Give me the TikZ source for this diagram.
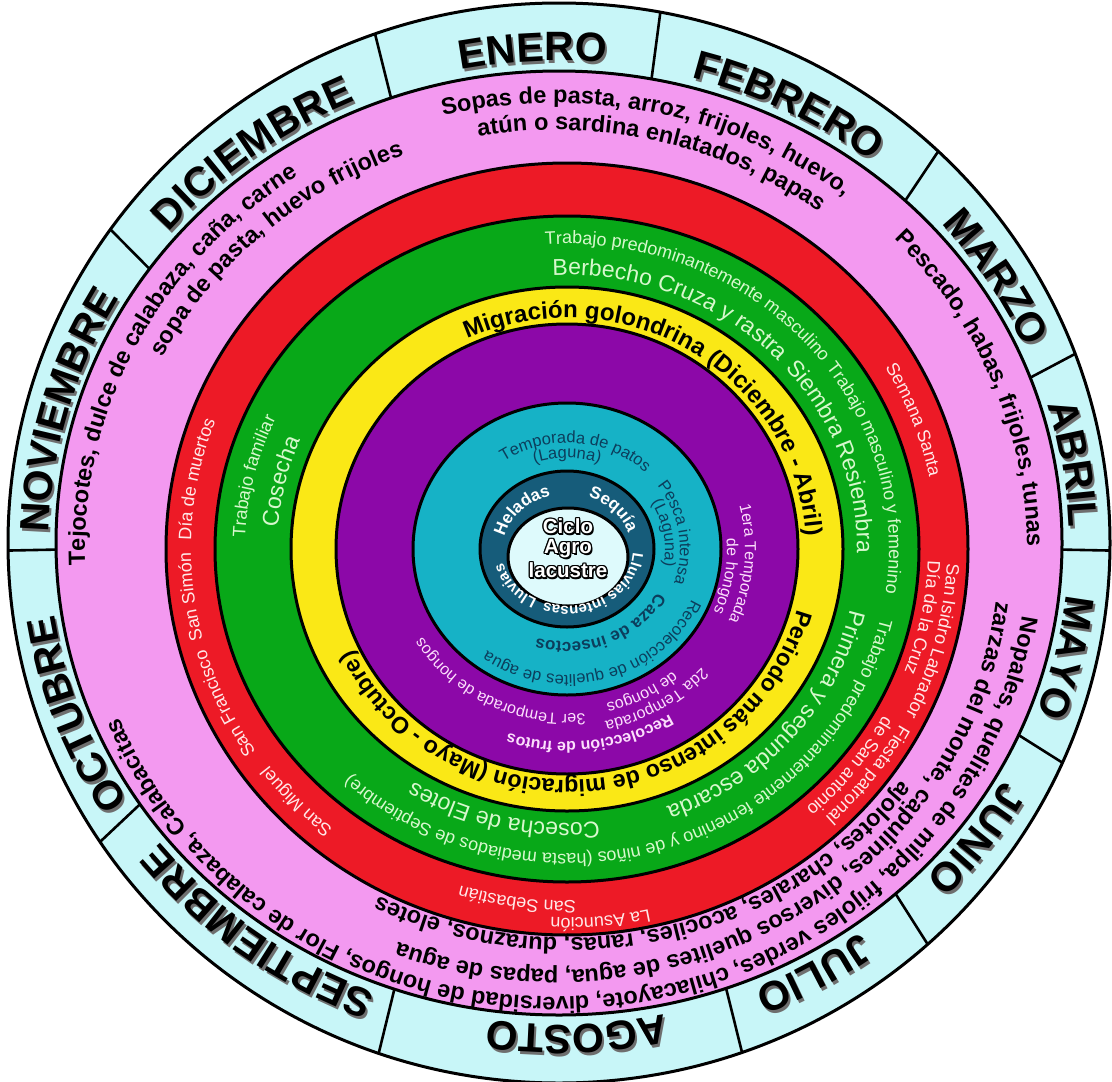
\documentclass[tikz,border=0pt]{standalone}
\usepackage{fontspec}
\setmainfont{Liberation Sans}
\usetikzlibrary{decorations.text,calc}
\definecolor{monthc}{RGB}{200,246,248}
\definecolor{pinkc}{RGB}{243,153,240}
\definecolor{redc}{RGB}{237,26,38}
\definecolor{greenc}{RGB}{8,168,24}
\definecolor{yellowc}{RGB}{250,232,22}
\definecolor{purplec}{RGB}{140,8,168}
\definecolor{cyanc}{RGB}{22,178,198}
\definecolor{darkc}{RGB}{22,92,122}
\definecolor{centerc}{RGB}{222,250,252}
\definecolor{redtxt}{RGB}{255,232,232}
\definecolor{greentxt}{RGB}{215,248,205}
\definecolor{purpletxt}{RGB}{252,222,252}
\definecolor{cyantxt}{RGB}{12,62,92}
\definecolor{shadowc}{RGB}{110,110,110}
\newcommand\fmonth{\fontsize{41}{48}\selectfont\bfseries}
\newcommand\fmonthS{\fontsize{41}{48}\selectfont\bfseries\color{shadowc}}
\newcommand\fpink{\fontsize{23.5}{28}\selectfont\bfseries}
\newcommand\fredt{\fontsize{18}{21}\selectfont\color{redtxt}}
\newcommand\fgs{\fontsize{18}{21}\selectfont\color{greentxt}}
\newcommand\fgl{\fontsize{23}{27}\selectfont\color{greentxt}}
\newcommand\fyel{\fontsize{24}{28}\selectfont\bfseries}
\newcommand\fyelb{\fontsize{23.3}{28}\selectfont\bfseries}
\newcommand\fpur{\fontsize{16}{19}\selectfont\color{purpletxt}}
\newcommand\fpurb{\fontsize{16}{19}\selectfont\bfseries\color{purpletxt}}
\newcommand\fcy{\fontsize{16.5}{19}\selectfont\color{cyantxt}}
\newcommand\fcyb{\fontsize{17}{20}\selectfont\bfseries\color{cyantxt}}
\newcommand\fdk{\fontsize{17}{20}\selectfont\bfseries\color{white}}
\newcommand\fdks{\fontsize{15}{18}\selectfont\bfseries\color{white}}
% #1 centre, #2 rx, #3 ry, #4 mid angle, #5 half span, #6 format, #7 text
\newcommand\atext[7]{%
  \path[shift={(#1)},decorate,decoration={text along path,text align=center,text={|#6|#7}}]
    ({#4+#5}:#2pt and #3pt) arc[start angle={#4+#5},end angle={#4-#5},x radius=#2pt,y radius=#3pt];}
\newcommand\outl[1]{\leavevmode\rlap{\color{black}\rlap{\kern-1.3pt #1}\rlap{\kern1.3pt #1}\rlap{\raisebox{1.3pt}{#1}}\rlap{\raisebox{-1.3pt}{#1}}\rlap{\kern-1pt\raisebox{-1pt}{#1}}\rlap{\kern1pt\raisebox{-1pt}{#1}}\rlap{\kern1pt\raisebox{1pt}{#1}}\rlap{\kern-1pt\raisebox{1pt}{#1}}\rlap{\kern1.5pt\raisebox{-2pt}{#1}}}\textcolor{white}{#1}}
\tikzset{ringline/.style={draw=black,line width=3pt},
  ctext/.style={font=\fontsize{20.5}{23}\selectfont\bfseries,inner sep=0pt}}
\begin{document}
\begin{tikzpicture}[x=1pt,y=1pt]
\useasboundingbox (0,0) rectangle (1112,-1082);
\fill[white] (0,0) rectangle (1112,-1082);
\coordinate (M) at (559,-543);
\coordinate (Ms) at (561,-546);
\coordinate (P) at (556,-550);
\coordinate (C) at (567,-549);
\coordinate (W) at (568,-557);
% rings
\filldraw[ringline,fill=monthc] (M) ellipse[x radius=551pt,y radius=540pt];
\foreach \a in {109.5,79.4,46.5,20.5,-0.8,-24,-48,-70.6,-109.1,-146.4,180.8,144.5}
  \draw[line width=2.6pt,shift={(M)}] (\a:503pt and 472pt) -- (\a:551pt and 540pt);
\filldraw[ringline,fill=pinkc] (M) ellipse[x radius=503pt,y radius=472pt];
\filldraw[ringline,fill=redc] (C) ellipse[x radius=401pt,y radius=386pt];
\filldraw[ringline,fill=greenc] (C) ellipse[x radius=352pt,y radius=333pt];
\filldraw[ringline,fill=yellowc] (C) ellipse[x radius=276pt,y radius=262pt];
\filldraw[ringline,fill=purplec] (C) ellipse[x radius=231pt,y radius=225pt];
\filldraw[ringline,fill=cyanc] (C) ellipse[x radius=154pt,y radius=146pt];
\filldraw[ringline,fill=darkc] (C) ellipse[x radius=87pt,y radius=78pt];
\filldraw[ringline,fill=centerc] (W) ellipse[x radius=60pt,y radius=49pt];
% months (shadow then text)
\atext{Ms}{510}{482}{93}{45}{\fmonthS}{ENERO}
\atext{M}{510}{482}{93}{45}{\fmonth}{ENERO}
\atext{Ms}{510}{482}{63}{45}{\fmonthS}{FEBRERO}
\atext{M}{510}{482}{63}{45}{\fmonth}{FEBRERO}
\atext{Ms}{510}{482}{32}{45}{\fmonthS}{MARZO}
\atext{M}{510}{482}{32}{45}{\fmonth}{MARZO}
\atext{Ms}{510}{482}{9}{45}{\fmonthS}{ABRIL}
\atext{M}{510}{482}{9}{45}{\fmonth}{ABRIL}
\atext{Ms}{510}{482}{-13}{45}{\fmonthS}{MAYO}
\atext{M}{510}{482}{-13}{45}{\fmonth}{MAYO}
\atext{Ms}{510}{482}{-36}{45}{\fmonthS}{JUNIO}
\atext{M}{510}{482}{-36}{45}{\fmonth}{JUNIO}
\atext{Ms}{510}{482}{-60}{45}{\fmonthS}{JULIO}
\atext{M}{510}{482}{-60}{45}{\fmonth}{JULIO}
\atext{Ms}{510}{482}{-88}{45}{\fmonthS}{AGOSTO}
\atext{M}{510}{482}{-88}{45}{\fmonth}{AGOSTO}
\atext{Ms}{510}{482}{-127}{45}{\fmonthS}{SEPTIEMBRE}
\atext{M}{510}{482}{-127}{45}{\fmonth}{SEPTIEMBRE}
\atext{Ms}{510}{482}{-160}{45}{\fmonthS}{OCTUBRE}
\atext{M}{510}{482}{-160}{45}{\fmonth}{OCTUBRE}
\atext{Ms}{510}{482}{164.5}{45}{\fmonthS}{NOVIEMBRE}
\atext{M}{510}{482}{164.5}{45}{\fmonth}{NOVIEMBRE}
\atext{Ms}{510}{482}{127.4}{45}{\fmonthS}{DICIEMBRE}
\atext{M}{510}{482}{127.4}{45}{\fmonth}{DICIEMBRE}
% pink ring
\atext{P}{471}{447}{77.9}{45}{\fpink}{Sopas de pasta, arroz, frijoles, huevo,}
\atext{P}{443}{420}{76.6}{45}{\fpink}{atún o sardina enlatados, papas}
\atext{P}{471}{447}{22}{40}{\fpink}{Pescado, habas, frijoles, tunas}
\atext{P}{471}{447}{-83.2}{86}{\fpink}{Nopales, quelites de milpa, frijoles verdes, chilacayote, diversidad de hongos, Flor de calabaza, Calabacitas}
\atext{P}{443}{420}{-58.7}{62}{\fpink}{zarzas del monte, capulines, diversos quelites de agua, papas de agua}
\atext{C}{416}{389}{-76.5}{55}{\fpink}{ajolotes, charales, acociles, ranas, duraznos, elotes}
\atext{P}{471}{447}{152.8}{40}{\fpink}{Tejocotes, dulce de calabaza, caña, carne}
\atext{P}{443}{420}{131.8}{40}{\fpink}{sopa de pasta, huevo frijoles}
% red ring
\atext{C}{370}{355}{21}{30}{\fredt}{Semana Santa}
\atext{C}{380}{365}{-14.5}{25}{\fredt}{San Isidro Labrador}
\atext{C}{361}{346}{-11.3}{25}{\fredt}{Día de la Cruz}
\atext{C}{380}{365}{-37.8}{25}{\fredt}{Fiesta patronal}
\atext{C}{361}{346}{-38.5}{25}{\fredt}{de San antonio}
\atext{C}{384}{369}{-85}{25}{\fredt}{La Asunción}
\atext{C}{367}{352}{-97.8}{25}{\fredt}{San Sebastián}
\atext{C}{374}{359}{-136}{25}{\fredt}{San Miguel}
\atext{C}{376}{361}{-155}{25}{\fredt}{San Francisco}
\atext{C}{376}{361}{187.5}{25}{\fredt}{San Simón}
\atext{C}{376}{361}{169}{25}{\fredt}{Día de muertos}
% green ring
\atext{C}{322}{305}{65.5}{45}{\fgs}{Trabajo predominantemente masculino}
\atext{C}{290}{274}{67.6}{45}{\fgl}{Berbecho Cruza y rastra}
\atext{C}{290}{274}{20}{35}{\fgl}{Siembra Resiembra}
\atext{C}{322}{305}{13.9}{35}{\fgs}{Trabajo masculino y femenino}
\atext{C}{290}{274}{-40.9}{45}{\fgl}{Primera y segunda escarda}
\atext{C}{322}{305}{-72.5}{80}{\fgs}{Trabajo predominantemente femenino y de niños (hasta mediados de Septiembre)}
\atext{C}{290}{274}{-103}{40}{\fgl}{Cosecha de Elotes}
\atext{C}{322}{305}{166.4}{25}{\fgs}{Trabajo familiar}
\atext{C}{290}{274}{166.1}{25}{\fgl}{Cosecha}
% yellow ring
\atext{C}{239}{231}{58.7}{80}{\fyel}{Migración golondrina (Diciembre - Abril)}
\atext{C}{239}{231}{-84.6}{88}{\fyelb}{Periodo más intenso de migración (Mayo - Octubre)}
% purple ring
\atext{C}{178}{172}{-5}{30}{\fpur}{1era Temporada}
\atext{C}{160}{155}{-10}{30}{\fpur}{de hongos}
\atext{C}{182}{176}{-60}{30}{\fpur}{2da Temporada}
\atext{C}{165}{159}{-63}{30}{\fpur}{de hongos}
\atext{C}{171}{165}{-116}{45}{\fpur}{3er Temporada de hongos}
\atext{C}{199}{193}{-83}{40}{\fpurb}{Recolección de frutos}
% cyan ring
\atext{C}{113}{106}{85}{60}{\fcy}{Temporada de patos}
\atext{C}{98}{91}{90}{40}{\fcy}{(Laguna)}
\atext{C}{113}{106}{9}{45}{\fcy}{Pesca intensa}
\atext{C}{98}{91}{9.8}{40}{\fcy}{(Laguna)}
\atext{C}{136}{126}{-74.4}{70}{\fcy}{Recolección de quelites de agua}
\atext{C}{102}{93}{-67}{60}{\fcyb}{Caza de insectos}
% dark ring
\atext{C}{64}{55}{137}{45}{\fdk}{Heladas}
\atext{C}{64}{55}{42.5}{45}{\fdk}{Sequía}
\atext{C}{66}{57}{-56}{65}{\fdks}{Lluvias intensas}
\atext{C}{66}{57}{-142}{35}{\fdks}{Lluvias}
% centre
\node[ctext] (ciclo) at (568,-527) {\outl{Ciclo}};
\node[ctext] (agro) at (568,-549) {\outl{Agro}};
\node[ctext] (lacustre) at (568,-571) {\outl{lacustre}};
\end{tikzpicture}
\end{document}
